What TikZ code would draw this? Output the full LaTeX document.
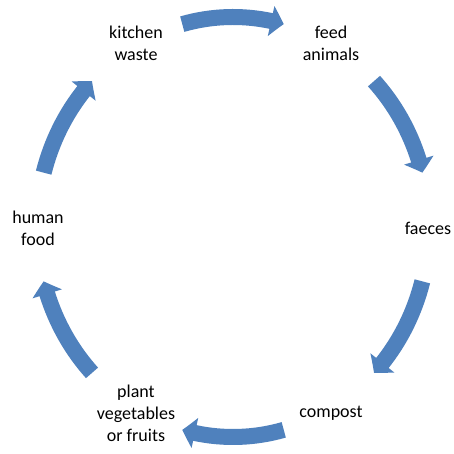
\documentclass[tikz,border=0pt]{standalone}
\usepackage{fontspec}
\setmainfont{Carlito}
\usetikzlibrary{arrows.meta,bending}
\definecolor{cycleblue}{RGB}{79,129,189}

\begin{document}
\begin{tikzpicture}[x=1pt, y=1pt,
    stage/.style={align=center, inner sep=0pt, font=\fontsize{18}{22}\selectfont},
    cyclearrow/.style={draw=cycleblue, line width=16pt, -{Triangle[length=13pt, width=30pt, bend]}}]
    \fill[white] (0,0) rectangle (453,454);
    \useasboundingbox (0,0) rectangle (453,454);
    \coordinate (o) at (233,227);

    \node[stage] (kitchen) at (136,411) {kitchen\\waste};
    \node[stage] (feed) at (331,411) {feed\\animals};
    \node[stage] (faeces) at (428,226) {faeces};
    \node[stage] (compost) at (331,41) {compost};
    \node[stage] (plant) at (136,41) {plant\\vegetables\\or fruits};
    \node[stage] (human) at (38,226) {human\\food};

    \draw[cyclearrow] ([shift={(105:196 and 210)}]o) arc[start angle=105, end angle=75, x radius=196, y radius=210];
    \draw[cyclearrow] ([shift={(44:196 and 210)}]o) arc[start angle=44, end angle=15, x radius=196, y radius=210];
    \draw[cyclearrow] ([shift={(-15:196 and 210)}]o) arc[start angle=-15, end angle=-44, x radius=196, y radius=210];
    \draw[cyclearrow] ([shift={(-75:196 and 210)}]o) arc[start angle=-75, end angle=-105, x radius=196, y radius=210];
    \draw[cyclearrow] ([shift={(-136:196 and 210)}]o) arc[start angle=-136, end angle=-165, x radius=196, y radius=210];
    \draw[cyclearrow] ([shift={(165:196 and 210)}]o) arc[start angle=165, end angle=136, x radius=196, y radius=210];
\end{tikzpicture}
\end{document}
